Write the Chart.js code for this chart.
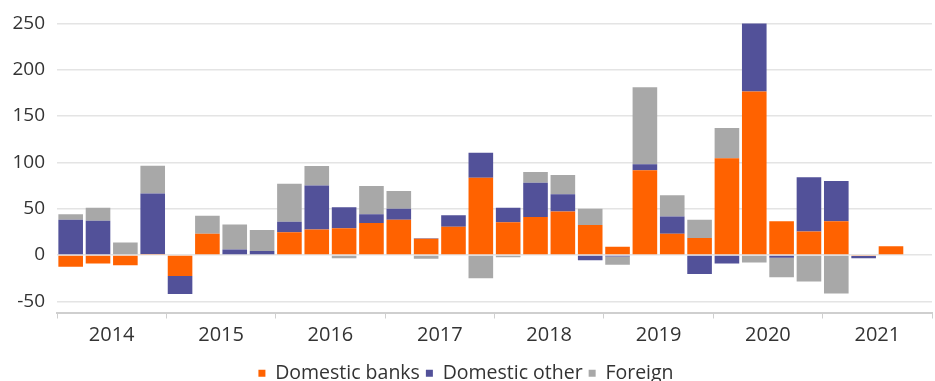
<!DOCTYPE html>
<html>
<head>
<meta charset="utf-8">
<script src="https://cdn.jsdelivr.net/npm/chart.js@4.4.1/dist/chart.umd.min.js"></script>
<style>
    html, body { margin: 0; padding: 0; background: #fff; }
    #wrap { width: 935px; height: 381px; position: relative; }
</style>
</head>
<body>
<div id="wrap"><canvas id="flowsChart"></canvas></div>
<script>
// Quarterly net flows by holder, 2014 Q1 - 2021 Q4
const quarters = [
    '2014Q1', '2014Q2', '2014Q3', '2014Q4',
    '2015Q1', '2015Q2', '2015Q3', '2015Q4',
    '2016Q1', '2016Q2', '2016Q3', '2016Q4',
    '2017Q1', '2017Q2', '2017Q3', '2017Q4',
    '2018Q1', '2018Q2', '2018Q3', '2018Q4',
    '2019Q1', '2019Q2', '2019Q3', '2019Q4',
    '2020Q1', '2020Q2', '2020Q3', '2020Q4',
    '2021Q1', '2021Q2', '2021Q3', '2021Q4'
];
const years = ['2014', '2015', '2016', '2017', '2018', '2019', '2020', '2021'];

const domesticBanks = [
    -12.5, -9, -11, 1,
    -22.5, 23, 0, 0,
    24.5, 27.5, 29, 34.5,
    38, 17.5, 30.5, 83.5,
    35.5, 41, 47, 32.5,
    9, 91.5, 23, 18.5,
    104.5, 176.5, 36.5, 25.5,
    36.5, -1, 9.5, null
];
const domesticOther = [
    38, 37, 0, 65.5,
    -19.5, 0, 6, 4.5,
    11.5, 47.5, 22.5, 9.5,
    12, 0.5, 12.5, 27,
    15.5, 37, 18.5, -5.5,
    -1.5, 6.5, 18.5, -20.5,
    -9, 74, -3, 58.5,
    43.5, -2.5, 0, null
];
const foreign = [
    6, 14, 13.5, 30,
    0, 19.5, 27, 22.5,
    41, 21, -3.5, 30.5,
    19, -4, 0, -25,
    -2.5, 11.5, 21, 17.5,
    -9, 83, 23, 19.5,
    32.5, -8, -21, -28.5,
    -41.5, 0, 0, null
];
const yTicks = [-50, 0, 50, 100, 150, 200, 250];

const textColor = '#333333';
const fontFamily = "'Open Sans', 'Noto Sans', sans-serif";

const ctx = document.getElementById('flowsChart').getContext('2d');

new Chart(ctx, {
    type: 'bar',
    data: {
        labels: quarters,
        datasets: [
            { label: 'Domestic banks', data: domesticBanks, backgroundColor: '#ff6200' },
            { label: 'Domestic other', data: domesticOther, backgroundColor: '#525199' },
            { label: 'Foreign', data: foreign, backgroundColor: '#a8a8a8' }
        ]
    },
    options: {
        responsive: true,
        maintainAspectRatio: false,
        animation: false,
        layout: {
            // legend sits low, right against the bottom edge
            padding: { top: 22, right: 3, left: 0, bottom: -12 }
        },
        datasets: {
            bar: {
                barPercentage: 0.9,
                categoryPercentage: 1.0,
                borderWidth: 0
            }
        },
        plugins: {
            legend: {
                position: 'bottom',
                labels: {
                    color: textColor,
                    font: { family: fontFamily, size: 19.5 },
                    boxWidth: 7,
                    boxHeight: 7,
                    padding: 6
                }
            },
            tooltip: { enabled: false }
        },
        scales: {
            x: {
                stacked: true,
                display: false
            },
            years: {
                type: 'category',
                position: 'bottom',
                labels: years,
                offset: true,
                grid: {
                    offset: true,
                    drawOnChartArea: false,
                    tickLength: 6,
                    color: '#cfcfcf'
                },
                border: { display: true, color: '#cfcfcf', width: 2 },
                ticks: {
                    color: textColor,
                    font: { family: fontFamily, size: 20 },
                    padding: 5,
                    maxRotation: 0
                },
                afterFit(scale) {
                    scale.height = 45;
                }
            },
            y: {
                stacked: true,
                min: -62,
                max: 250,
                afterBuildTicks(scale) {
                    scale.ticks = yTicks.map(v => ({ value: v }));
                },
                afterFit(scale) {
                    scale.width = 57;
                },
                grid: {
                    color: '#e4e4e4',
                    lineWidth: 1.5,
                    drawTicks: false
                },
                border: { display: false },
                ticks: {
                    color: textColor,
                    font: { family: fontFamily, size: 19 },
                    padding: 12
                }
            }
        }
    }
});
</script>
</body>
</html>
